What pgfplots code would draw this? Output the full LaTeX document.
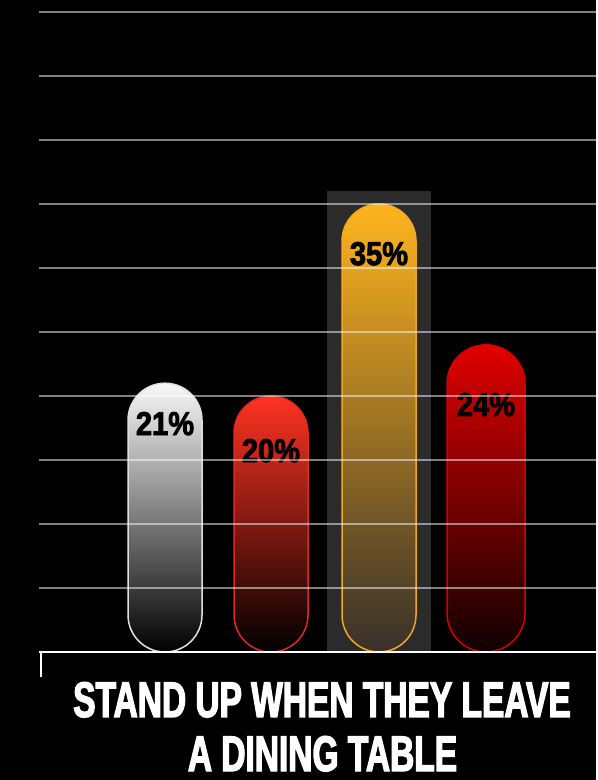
\documentclass[border=0pt]{standalone}
\usepackage{pgfplots}
\pgfplotsset{compat=1.18}
\usepackage{fontspec}
\setmainfont{Liberation Sans}
\newfontfamily\titlefont[FakeStretch=0.67,BoldFeatures={FakeBold=2.5}]{Liberation Sans}
\newfontfamily\labelfont[FakeStretch=0.88,BoldFeatures={FakeBold=2.5}]{Liberation Sans}
\definecolor{hl}{HTML}{2B2B2B}
\definecolor{b1top}{HTML}{F8F8F8}
\definecolor{b1mid}{HTML}{8A8A8A}
\definecolor{b1draw}{HTML}{E0E0E0}
\definecolor{b2top}{HTML}{FF3322}
\definecolor{b2draw}{HTML}{E02A20}
\definecolor{b3top}{HTML}{FFB41E}
\definecolor{b3mid}{HTML}{C8911F}
\definecolor{b3bot}{HTML}{38302A}
\definecolor{b3draw}{HTML}{F0A820}
\definecolor{b4top}{HTML}{E00000}
\definecolor{b4bot}{HTML}{100000}
\definecolor{b4draw}{HTML}{D00000}
\begin{document}
\begin{tikzpicture}[x=1pt,y=1pt]
\fill[black] (0,0) rectangle (596,780);
\begin{axis}[
  at={(39pt,128pt)}, anchor=south west,
  scale only axis, width=557pt, height=652pt,
  xmin=39, xmax=596, ymin=0, ymax=50.9375,
  axis line style={draw=none},
  xtick=\empty,
  ytick={5,10,...,50}, yticklabels={},
  major tick length=0pt,
  ymajorgrids, grid style={color=white, line width=1.2pt, opacity=0.5},
  axis on top,
  clip=false,
]
\addplot[ybar, bar width=104pt, bar shift=0pt, fill=hl, draw=none] coordinates {(379,36.02)};
\addplot[ybar, bar width=74pt, bar shift=0pt, rounded corners=37pt, top color=b1top, middle color=b1mid, bottom color=black, draw=b1draw, line width=1.5pt] coordinates {(165,21)};
\addplot[ybar, bar width=74pt, bar shift=0pt, rounded corners=37pt, top color=b2top, bottom color=black, draw=b2draw, line width=1.5pt] coordinates {(271,20)};
\addplot[ybar, bar width=74pt, bar shift=0pt, rounded corners=37pt, top color=b3top, middle color=b3mid, bottom color=b3bot, draw=b3draw, line width=1.5pt] coordinates {(379,35)};
\addplot[ybar, bar width=78pt, bar shift=0pt, rounded corners=39pt, top color=b4top, bottom color=b4bot, draw=b4draw, line width=1.5pt] coordinates {(486,24)};
\draw[white, line width=2.5pt] (axis cs:39,0) -- (axis cs:596,0);
\draw[white, line width=2pt] (axis cs:41,0) -- ++(0pt,-25pt);
\node[anchor=base, black] at (axis cs:165,16.95) {\labelfont\bfseries\fontsize{33}{33}\selectfont 21\%};
\node[anchor=base, black] at (axis cs:271,14.84) {\labelfont\bfseries\fontsize{33}{33}\selectfont 20\%};
\node[anchor=base, black] at (axis cs:379,30.23) {\labelfont\bfseries\fontsize{33}{33}\selectfont 35\%};
\node[anchor=base, black] at (axis cs:486,18.44) {\labelfont\bfseries\fontsize{33}{33}\selectfont 24\%};
\end{axis}
\node[anchor=base, white, inner sep=0pt] at (322,63) {\titlefont\bfseries\fontsize{50}{50}\selectfont STAND UP WHEN THEY LEAVE};
\node[anchor=base, white, inner sep=0pt] at (322.5,9) {\titlefont\bfseries\fontsize{50}{50}\selectfont A DINING TABLE};
\end{tikzpicture}
\end{document}
